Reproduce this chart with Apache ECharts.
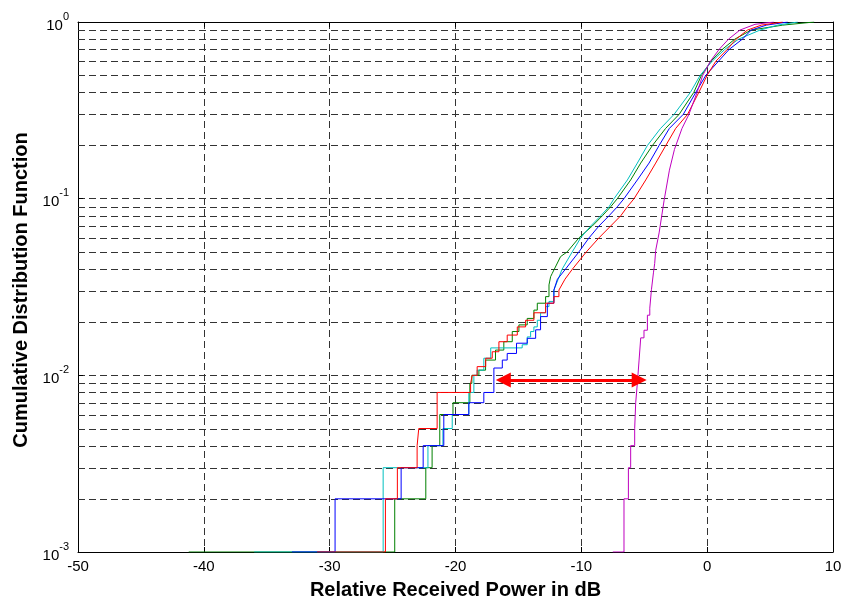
<!DOCTYPE html>
<html>
<head>
<meta charset="utf-8">
<script src="https://cdn.jsdelivr.net/npm/echarts@6/dist/echarts.min.js"></script>
<style>html,body{margin:0;padding:0;background:#fff}#c{width:843px;height:606px}</style>
</head>
<body>
<div id="c"></div>
<script>
// ---- data (x in dB, y = CDF) ----
const xTicks = [-50, -40, -30, -20, -10, 0, 10];
const yDecades = [0.001, 0.01, 0.1, 1];
const yMinorGrid = [0.002,0.003,0.004,0.005,0.006,0.007,0.008,0.009,
                    0.02,0.03,0.04,0.05,0.06,0.07,0.08,0.09,
                    0.2,0.3,0.4,0.5,0.6,0.7,0.8,0.9];

const blueSteps = [[-33,0.001],[-29.57,0.002],[-24.32,0.003],[-22.57,0.004],[-20.93,0.006],[-18.94,0.007],[-17.75,0.008],[-16.95,0.011],[-16.28,0.0122],[-15.89,0.0133],[-15.15,0.0152],[-14.30,0.0162],[-13.63,0.0181],[-13.24,0.0215],[-12.70,0.0256],[-12.18,0.0304]];
const blueCurve = [[-12.18,0.0304],[-11.9,0.035],[-11.25,0.04],[-10.19,0.05],[-9.39,0.06],[-8.6,0.07],[-7.8,0.08],[-7.14,0.09],[-6.61,0.1],[-5.55,0.1276],[-4.62,0.159],[-3.82,0.2],[-3.0,0.25],[-1.9,0.3],[-0.9,0.4],[-0.1,0.5],[0.9,0.6],[1.75,0.7],[2.8,0.8],[3.5,0.9],[4.7,0.96],[6.4,1.0]];

const redSteps = [[-31,0.001],[-25.57,0.002],[-24.62,0.003],[-23.05,0.004],[-22.92,0.005],[-21.46,0.008],[-18.8,0.009],[-18.67,0.01],[-18.28,0.0112],[-17.6,0.0125],[-17.08,0.0136],[-16.55,0.0155],[-15.89,0.0169],[-15.09,0.0188],[-14.43,0.0205],[-13.77,0.0226],[-12.84,0.0256],[-12.18,0.0279],[-11.78,0.0304]];
const redCurve = [[-11.78,0.0304],[-11.3,0.035],[-10.7,0.04],[-9.6,0.05],[-8.6,0.06],[-7.67,0.07],[-6.87,0.08],[-6.34,0.09],[-5.81,0.1],[-4.88,0.1276],[-4.09,0.159],[-3.29,0.2],[-2.5,0.25],[-1.56,0.3],[-0.66,0.4],[0,0.5],[0.69,0.6],[1.6,0.7],[2.3,0.8],[3.2,0.9],[4.3,0.96],[6.0,1.0]];

const greenSteps = [[-41.2,0.001],[-24.83,0.002],[-22.36,0.003],[-21.86,0.004],[-21.25,0.006],[-20.2,0.007],[-18.86,0.009],[-18.7,0.01],[-18.14,0.0107],[-17.61,0.0122],[-16.82,0.0139],[-16.16,0.0155],[-15.49,0.0177],[-14.96,0.0193],[-14.30,0.021],[-13.77,0.0234],[-13.50,0.0256],[-12.84,0.0279],[-12.57,0.0325]];
const greenCurve = [[-12.57,0.0325],[-12.44,0.0362],[-12.31,0.0378],[-11.65,0.047],[-11.12,0.05],[-10.19,0.06],[-9.13,0.07],[-8.33,0.08],[-7.67,0.09],[-7.14,0.1],[-6.08,0.1276],[-5.28,0.159],[-4.35,0.2],[-3.3,0.25],[-2.23,0.3],[-1.06,0.4],[-0.45,0.5],[0.3,0.6],[1.2,0.7],[2.2,0.8],[3.5,0.9],[6.0,0.96],[8.5,1.0]];

const cyanSteps = [[-36,0.001],[-25.75,0.003],[-22.19,0.004],[-21.0,0.005],[-20.26,0.006],[-18.94,0.008],[-18.54,0.01],[-18.28,0.0107],[-17.75,0.0125],[-17.2,0.0143],[-14.70,0.0149],[-14.30,0.0165],[-14.03,0.0177],[-13.77,0.0188],[-13.50,0.0205],[-13.24,0.0226],[-12.84,0.0245],[-12.57,0.0262],[-12.18,0.0304]];
const cyanCurve = [[-12.18,0.0304],[-11.52,0.04],[-10.72,0.05],[-10.05,0.06],[-9.26,0.07],[-8.46,0.08],[-7.8,0.09],[-7.4,0.1],[-6.34,0.1276],[-5.55,0.159],[-4.75,0.2],[-3.7,0.25],[-2.63,0.3],[-1.33,0.4],[-0.55,0.5],[0.4,0.6],[1.4,0.7],[2.5,0.8],[4.2,0.9],[5.6,0.96],[7.2,1.0]];

const magentaSteps = [[-7.5,0.001],[-6.61,0.002],[-6.26,0.003],[-6.08,0.004],[-5.76,0.005],[-5.68,0.007],[-5.55,0.009],[-5.41,0.0122],[-5.28,0.0163],[-5.02,0.018],[-4.75,0.0219],[-4.56,0.024],[-4.43,0.0305]];
const magentaCurve = [[-4.43,0.0305],[-4.27,0.038],[-4.17,0.043],[-4.09,0.051],[-3.82,0.064],[-3.42,0.098],[-3.0,0.145],[-2.6,0.19],[-2.0,0.25],[-1.45,0.3],[-0.8,0.4],[-0.35,0.5],[0.26,0.6],[0.95,0.7],[1.7,0.8],[2.6,0.9],[3.8,0.97],[5.3,1.0]];

const arrowX = [-16.2, -5.4];
const arrowY = 0.0094;

// ---- chart ----
const FONT = "'Liberation Sans', Arial, sans-serif";
const DASH = [7, 4];
const chart = echarts.init(document.getElementById('c'), null, {renderer: 'canvas'});

function stepSeries(name, data, color) {
  return {name, type: 'line', data, step: 'end', showSymbol: false, symbol: 'none',
          lineStyle: {color, width: 1}, z: 3, animation: false, clip: true};
}
function curveSeries(name, data, color) {
  return {name, type: 'line', data, showSymbol: false, symbol: 'none',
          lineStyle: {color, width: 1}, z: 3, animation: false, clip: true};
}

const colors = {blue: '#0000ff', red: '#ff0000', green: '#008000', cyan: '#00bfbf', magenta: '#bf00bf'};

const option = {
  animation: false,
  backgroundColor: '#fff',
  grid: {left: 78, right: 10, top: 22, bottom: 54, containLabel: false, outerBoundsMode: 'none'},
  xAxis: [{
    type: 'value', min: -50, max: 10, interval: 10,
    name: 'Relative Received Power in dB', nameLocation: 'middle', nameGap: 28,
    nameTextStyle: {fontFamily: FONT, fontWeight: 'bold', fontSize: 20, color: '#000'},
    axisLine: {show: true, onZero: false, lineStyle: {color: '#000', width: 1}},
    axisTick: {show: true, inside: true, length: 5, lineStyle: {color: '#000'}},
    axisLabel: {fontFamily: FONT, fontSize: 15, color: '#000', margin: 7},
    splitLine: {show: true, lineStyle: {color: '#333', type: DASH, width: 1}}
  }, {
    type: 'value', position: 'top', min: -50, max: 10, interval: 10,
    axisLine: {show: true, onZero: false, lineStyle: {color: '#000', width: 1}},
    axisTick: {show: true, inside: true, length: 5, lineStyle: {color: '#000'}},
    axisLabel: {show: false}, splitLine: {show: false}
  }],
  yAxis: [{
    type: 'log', logBase: 10, min: 0.001, max: 1,
    name: 'Cumulative Distribution Function', nameLocation: 'middle', nameGap: 44,
    nameRotate: 90,
    nameTextStyle: {fontFamily: FONT, fontWeight: 'bold', fontSize: 20, color: '#000', padding: [0, 6, 0, 0]},
    axisLine: {show: true, onZero: false, lineStyle: {color: '#000', width: 1}},
    axisTick: {show: true, inside: true, length: 5, lineStyle: {color: '#000'}},
    axisLabel: {
      margin: 9,
      formatter: function (v) {
        const e = Math.round(Math.log10(v));
        return '{b|10}{s|' + e + '}';
      },
      rich: {
        b: {fontFamily: FONT, fontSize: 15, color: '#000', verticalAlign: 'bottom', lineHeight: 22},
        s: {fontFamily: FONT, fontSize: 11, color: '#000', verticalAlign: 'top', lineHeight: 22}
      }
    },
    splitLine: {show: true, lineStyle: {color: '#333', type: DASH, width: 1}}
  }, {
    type: 'log', logBase: 10, min: 0.001, max: 1, position: 'right',
    axisLine: {show: true, onZero: false, lineStyle: {color: '#000', width: 1}},
    axisTick: {show: true, inside: true, length: 5, lineStyle: {color: '#000'}},
    axisLabel: {show: false}, splitLine: {show: false}
  }],
  series: [
    {
      name: 'minorGrid', type: 'custom', z: 1, silent: true,
      data: yMinorGrid.map(v => [v]),
      encode: {y: 0},
      renderItem: function (params, api) {
        const cs = params.coordSys;
        const y = api.coord([xTicks[0], api.value(0)])[1];
        return {
          type: 'line',
          shape: {x1: cs.x, y1: Math.round(y) + 0.5, x2: cs.x + cs.width, y2: Math.round(y) + 0.5},
          style: {stroke: '#333', lineWidth: 1, lineDash: DASH}
        };
      }
    },
    stepSeries('green', greenSteps, colors.green),
    curveSeries('green2', greenCurve, colors.green),
    stepSeries('cyan', cyanSteps, colors.cyan),
    curveSeries('cyan2', cyanCurve, colors.cyan),
    stepSeries('blue', blueSteps, colors.blue),
    curveSeries('blue2', blueCurve, colors.blue),
    stepSeries('red', redSteps, colors.red),
    curveSeries('red2', redCurve, colors.red),
    stepSeries('magenta', magentaSteps, colors.magenta),
    curveSeries('magenta2', magentaCurve, colors.magenta),
    {
      name: 'arrow', type: 'line', data: [], silent: true,
      markLine: {
        silent: true, animation: false,
        symbol: ['triangle', 'triangle'], symbolSize: [15, 15],
        label: {show: false},
        lineStyle: {color: '#ff0000', width: 3, type: 'solid'},
        itemStyle: {color: '#ff0000'},
        emphasis: {disabled: true},
        data: [[{coord: [arrowX[0], arrowY]}, {coord: [arrowX[1], arrowY]}]]
      }
    }
  ]
};
chart.setOption(option);
</script>
</body>
</html>
